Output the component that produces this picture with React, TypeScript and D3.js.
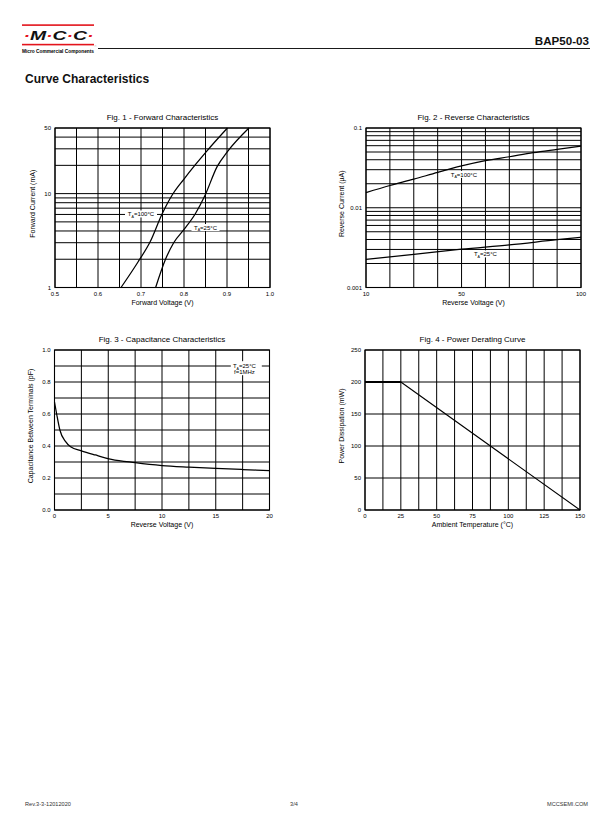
import { useEffect, useRef } from "react"
import * as d3 from "d3"

const font = "'Liberation Sans', Arial, Helvetica, sans-serif"

// Fig. 1 - Forward Characteristics (V, mA)
const fwdVolt100 = [0.6535, 0.693, 0.721, 0.749, 0.774, 0.8, 0.826, 0.853, 0.901]
const fwdCurr100 = [1, 1.87, 3.05, 6.07, 9.9, 14.3, 20.2, 28.4, 50]
const fwdVolt25 = [0.734, 0.757, 0.776, 0.801, 0.826, 0.849, 0.877, 0.901, 0.951]
const fwdCurr25 = [1, 2, 3, 4.2, 6.07, 9.6, 19.4, 28, 50]
const fwdVoltGrid = [0.5, 0.55, 0.6, 0.65, 0.7, 0.75, 0.8, 0.85, 0.9, 0.95, 1.0]
const fwdVoltTicks = [0.5, 0.6, 0.7, 0.8, 0.9, 1.0]
const fwdCurrGrid = [1, 2, 3, 4, 5, 6, 7, 8, 9, 10, 20, 30, 40, 50]
const fwdCurrTicks = [1, 10, 50]

// Fig. 2 - Reverse Characteristics (V, uA)
const revVolt100 = [10, 20, 30, 40, 50, 60, 70, 80, 90, 100]
const revCurr100 = [0.0155, 0.019, 0.0228, 0.0278, 0.0334, 0.0389, 0.0436, 0.049, 0.054, 0.0594]
const revVolt25 = [10, 30, 50, 70, 90, 100]
const revCurr25 = [0.00226, 0.0026, 0.00302, 0.00342, 0.00398, 0.00427]
const revVoltGrid = [10, 20, 30, 40, 50, 60, 70, 80, 90, 100]
const revVoltTicks = [10, 50, 100]
const revCurrGrid = [0.001, 0.002, 0.003, 0.004, 0.005, 0.006, 0.007, 0.008, 0.009,
  0.01, 0.02, 0.03, 0.04, 0.05, 0.06, 0.07, 0.08, 0.09, 0.1]
const revCurrTicks = [0.001, 0.01, 0.1]

// Fig. 3 - Capacitance Characteristics (V, pF)
const capVolt = [0, 0.2, 0.5, 1, 1.5, 2.5, 3.8, 5.3, 7.5, 10, 12.5, 15, 17.5, 20]
const capVal = [0.675, 0.6, 0.5, 0.43, 0.395, 0.37, 0.344, 0.317, 0.296, 0.278, 0.268, 0.26, 0.253, 0.246]
const capVoltGrid = [0, 2.5, 5, 7.5, 10, 12.5, 15, 17.5, 20]
const capVoltTicks = [0, 5, 10, 15, 20]
const capValGrid = [0, 0.1, 0.2, 0.3, 0.4, 0.5, 0.6, 0.7, 0.8, 0.9, 1.0]
const capValTicks = [0, 0.2, 0.4, 0.6, 0.8, 1.0]

// Fig. 4 - Power Derating Curve (°C, mW)
const derTemp = [0, 25, 150]
const derPower = [200, 200, 0]
const derTempGrid = [0, 12.5, 25, 37.5, 50, 62.5, 75, 87.5, 100, 112.5, 125, 137.5, 150]
const derTempTicks = [0, 25, 50, 75, 100, 125, 150]
const derPowerGrid = [0, 50, 100, 150, 200, 250]
const derPowerTicks = [0, 50, 100, 150, 200, 250]

const drawFrame = (root, x, y, cfg) => {
    const g = root.append("g")
    const [x0, x1] = x.range()
    const [y0, y1] = y.range()

    g.append("g").selectAll("line")
        .data(cfg.xGrid)
        .join("line")
        .attr("x1", d => x(d)).attr("x2", d => x(d))
        .attr("y1", y0).attr("y2", y1)
        .attr("stroke", "#000").attr("stroke-width", 1)

    g.append("g").selectAll("line")
        .data(cfg.yGrid)
        .join("line")
        .attr("y1", d => y(d)).attr("y2", d => y(d))
        .attr("x1", x0).attr("x2", x1)
        .attr("stroke", "#000").attr("stroke-width", 1)

    g.append("rect")
        .attr("x", x0).attr("y", y1)
        .attr("width", x1 - x0).attr("height", y0 - y1)
        .attr("fill", "none").attr("stroke", "#000").attr("stroke-width", 1.1)

    g.append("g").selectAll("text")
        .data(cfg.xTicks)
        .join("text")
        .attr("x", d => x(d)).attr("y", y0 + 8)
        .attr("text-anchor", "middle")
        .attr("font-size", 6).attr("font-family", font)
        .text(cfg.xFmt)

    g.append("g").selectAll("text")
        .data(cfg.yTicks)
        .join("text")
        .attr("x", x0 - 4).attr("y", d => y(d) + 2)
        .attr("text-anchor", "end")
        .attr("font-size", 6).attr("font-family", font)
        .text(cfg.yFmt)

    g.append("text")
        .attr("x", (x0 + x1) / 2).attr("y", y1 - 8.5)
        .attr("text-anchor", "middle")
        .attr("font-size", 8).attr("font-family", font)
        .text(cfg.title)

    g.append("text")
        .attr("x", (x0 + x1) / 2).attr("y", y0 + 17)
        .attr("text-anchor", "middle")
        .attr("font-size", 7).attr("font-family", font)
        .text(cfg.xTitle)

    g.append("text")
        .attr("transform", `translate(${cfg.yTitleX},${(y0 + y1) / 2 - 4}) rotate(-90)`)
        .attr("text-anchor", "middle")
        .attr("font-size", 7).attr("font-family", font)
        .text(cfg.yTitle)
}

const drawCurve = (root, x, y, xs, ys, width, curve) => {
    const line = d3.line()
        .x(d => x(d[0]))
        .y(d => y(d[1]))
        .curve(curve || d3.curveLinear)
    root.append("path")
        .attr("d", line(d3.zip(xs, ys)))
        .attr("fill", "none")
        .attr("stroke", "#000")
        .attr("stroke-width", width)
        .attr("stroke-linejoin", "round")
}

const tempLabel = (root, px, py, temp, w) => {
    root.append("rect")
        .attr("x", px - w / 2).attr("y", py - 4)
        .attr("width", w).attr("height", 7)
        .attr("fill", "#fff")
    const t = root.append("text")
        .attr("x", px).attr("y", py + 2)
        .attr("text-anchor", "middle")
        .attr("font-size", 6).attr("font-family", font)
    t.append("tspan").text("T")
    t.append("tspan").attr("font-size", 3.6).attr("dy", 1.2).text("A")
    t.append("tspan").attr("dy", -1.2).text("=" + temp + "°C")
}

const App = () => {
    const ref = useRef(null)

    useEffect(() => {
        const svg = d3.select(ref.current)
        svg.selectAll("*").remove()

        // header
        svg.append("rect").attr("x", 22).attr("y", 24.3).attr("width", 72).attr("height", 1.6).attr("fill", "#e3141c")
        svg.append("rect").attr("x", 22).attr("y", 43.8).attr("width", 72).attr("height", 1.6).attr("fill", "#e3141c")
        const logo = svg.append("text")
            .attr("x", 23.5).attr("y", 39.8)
            .attr("font-size", 13.5).attr("font-weight", "bold").attr("font-style", "italic")
            .attr("font-family", font)
            .attr("textLength", 70).attr("lengthAdjust", "spacingAndGlyphs")
        ;["·", "M", "·", "C", "·", "C", "·"].forEach((c, i) =>
            logo.append("tspan").attr("fill", i % 2 ? "#111" : "#e3141c").text(c))
        svg.append("text")
            .attr("x", 22).attr("y", 52.5)
            .attr("font-size", 4.8).attr("font-weight", "bold").attr("font-family", font)
            .attr("textLength", 72).attr("lengthAdjust", "spacingAndGlyphs")
            .text("Micro Commercial Components")
        svg.append("text").attr("x", 94.5).attr("y", 47).attr("font-size", 2.5).attr("font-family", font).text("®")
        svg.append("line").attr("x1", 98).attr("x2", 590).attr("y1", 48.5).attr("y2", 48.5)
            .attr("stroke", "#000").attr("stroke-width", 0.9)
        svg.append("text")
            .attr("x", 589).attr("y", 44.5).attr("text-anchor", "end")
            .attr("font-size", 11.6).attr("font-weight", "bold").attr("font-family", font).attr("fill", "#111")
            .text("BAP50-03")
        svg.append("text")
            .attr("x", 25).attr("y", 82.5)
            .attr("font-size", 12).attr("font-weight", "bold").attr("font-family", font).attr("fill", "#111")
            .text("Curve Characteristics")

        // Fig. 1
        const x1 = d3.scaleLinear().domain([0.5, 1.0]).range([55, 270])
        const y1 = d3.scaleLog().domain([1, 50]).range([287.5, 128])
        drawFrame(svg, x1, y1, {
            xGrid: fwdVoltGrid, yGrid: fwdCurrGrid, xTicks: fwdVoltTicks, yTicks: fwdCurrTicks,
            xFmt: d => d3.format(".1f")(d), yFmt: d => String(d),
            title: "Fig. 1 - Forward Characteristics", xTitle: "Forward Voltage (V)",
            yTitle: "Forward Current (mA)", yTitleX: 35
        })
        drawCurve(svg, x1, y1, fwdVolt100, fwdCurr100, 1.25, d3.curveMonotoneX)
        drawCurve(svg, x1, y1, fwdVolt25, fwdCurr25, 1.25, d3.curveMonotoneX)
        tempLabel(svg, x1(0.7), y1(6), "100", 32)
        tempLabel(svg, x1(0.85), y1(4.3), "25", 28)

        // Fig. 2
        const x2 = d3.scaleLinear().domain([10, 100]).range([366, 581])
        const y2 = d3.scaleLog().domain([0.001, 0.1]).range([287.5, 128])
        drawFrame(svg, x2, y2, {
            xGrid: revVoltGrid, yGrid: revCurrGrid, xTicks: revVoltTicks, yTicks: revCurrTicks,
            xFmt: d => String(d), yFmt: d => String(d),
            title: "Fig. 2 - Reverse Characteristics", xTitle: "Reverse Voltage (V)",
            yTitle: "Reverse Current (µA)", yTitleX: 344
        })
        drawCurve(svg, x2, y2, revVolt100, revCurr100, 1.25, d3.curveMonotoneX)
        drawCurve(svg, x2, y2, revVolt25, revCurr25, 1.25, d3.curveMonotoneX)
        tempLabel(svg, x2(51), y2(0.0258), "100", 32)
        tempLabel(svg, x2(60), y2(0.0026), "25", 28)

        // Fig. 3
        const x3 = d3.scaleLinear().domain([0, 20]).range([54.5, 269.5])
        const y3 = d3.scaleLinear().domain([0, 1]).range([510, 350])
        drawFrame(svg, x3, y3, {
            xGrid: capVoltGrid, yGrid: capValGrid, xTicks: capVoltTicks, yTicks: capValTicks,
            xFmt: d => String(d), yFmt: d => d3.format(".1f")(d),
            title: "Fig. 3 - Capacitance Characteristics", xTitle: "Reverse Voltage (V)",
            yTitle: "Capacitance Between Terminals (pF)", yTitleX: 33
        })
        drawCurve(svg, x3, y3, capVolt, capVal, 1.25, d3.curveMonotoneX)
        svg.append("rect").attr("x", x3(16.4)).attr("y", y3(0.93)).attr("width", 31).attr("height", 14).attr("fill", "#fff")
        const ct = svg.append("text").attr("x", x3(16.6)).attr("y", y3(0.885))
            .attr("font-size", 6).attr("font-family", font)
        ct.append("tspan").text("T")
        ct.append("tspan").attr("font-size", 3.6).attr("dy", 1.2).text("A")
        ct.append("tspan").attr("dy", -1.2).text("=25°C")
        svg.append("text").attr("x", x3(16.7)).attr("y", y3(0.85))
            .attr("font-size", 6).attr("font-family", font).text("f=1MHz")

        // Fig. 4
        const x4 = d3.scaleLinear().domain([0, 150]).range([365, 580])
        const y4 = d3.scaleLinear().domain([0, 250]).range([510, 350])
        drawFrame(svg, x4, y4, {
            xGrid: derTempGrid, yGrid: derPowerGrid, xTicks: derTempTicks, yTicks: derPowerTicks,
            xFmt: d => String(d), yFmt: d => String(d),
            title: "Fig. 4 - Power Derating Curve", xTitle: "Ambient Temperature (°C)",
            yTitle: "Power Dissipation (mW)", yTitleX: 344
        })
        drawCurve(svg, x4, y4, derTemp, derPower, 1.1)
        drawCurve(svg, x4, y4, derTemp.slice(0, 2), derPower.slice(0, 2), 2)

        // footer
        const foot = [["Rev.3-3-12012020", 25, "start"], ["3/4", 294, "middle"], ["MCCSEMI.COM", 588, "end"]]
        svg.append("g").selectAll("text")
            .data(foot)
            .join("text")
            .attr("x", d => d[1]).attr("y", 806)
            .attr("text-anchor", d => d[2])
            .attr("font-size", 5.6).attr("font-family", font).attr("fill", "#333")
            .text(d => d[0])
    }, [])

    return (
        <svg ref={ref} width={612} height={825}
            style={{ position: "absolute", left: 0, top: 0, background: "#fff" }} />
    )
}

export default App
